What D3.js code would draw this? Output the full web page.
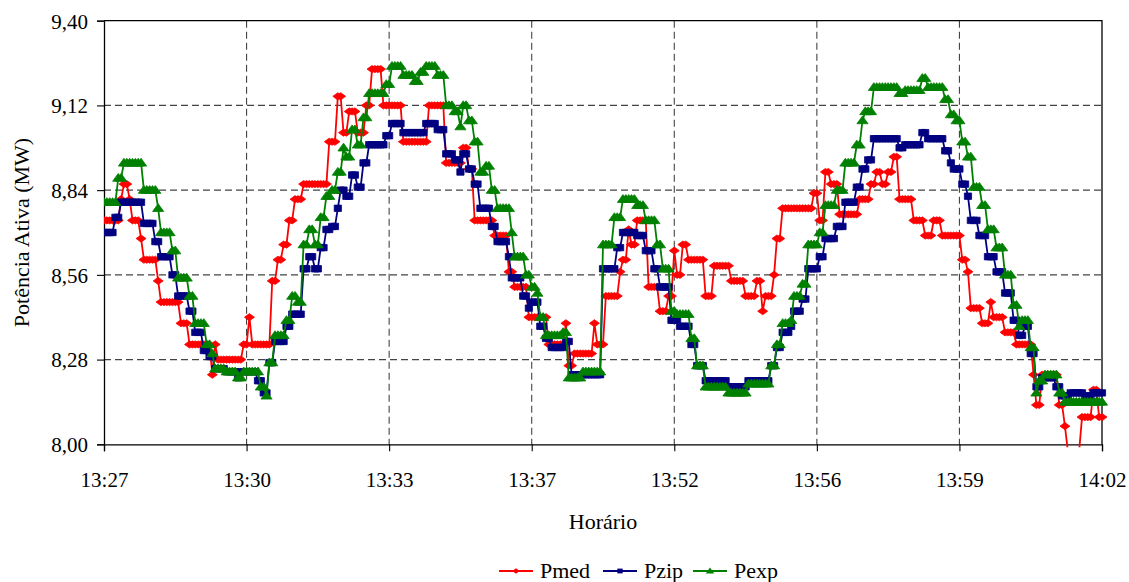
<!DOCTYPE html>
<html>
<head>
<meta charset="utf-8">
<script src="https://cdn.jsdelivr.net/npm/d3@7"></script>
<style>
  body { margin: 0; background: #fff; }
</style>
</head>
<body>
<svg id="chart" width="1129" height="582"></svg>
<script>
// Time labels shown every 50 samples along the horizontal axis
const timeLabels = ["13:27", "13:30", "13:33", "13:37", "13:52", "13:56", "13:59", "14:02"];
const samplesPerLabel = 50;

// Active power (MW), one value per sample
const pmed = [
  8.74,8.74,8.74,8.74,8.74,8.74,8.81,8.86,8.86,8.81,
  8.74,8.74,8.74,8.68,8.61,8.61,8.61,8.61,8.61,8.54,
  8.47,8.47,8.47,8.47,8.47,8.47,8.47,8.40,8.40,8.40,
  8.33,8.33,8.33,8.33,8.33,8.33,8.33,8.33,8.23,8.33,
  8.28,8.28,8.28,8.28,8.28,8.28,8.28,8.28,8.28,8.33,
  8.33,8.42,8.33,8.33,8.33,8.33,8.33,8.33,8.33,8.54,
  8.54,8.61,8.61,8.66,8.66,8.74,8.74,8.81,8.81,8.81,
  8.86,8.86,8.86,8.86,8.86,8.86,8.86,8.86,8.86,9.00,
  9.00,9.00,9.15,9.15,9.03,9.03,9.10,9.10,9.10,9.03,
  9.03,9.03,9.12,9.12,9.24,9.24,9.24,9.24,9.12,9.12,
  9.12,9.12,9.12,9.12,9.12,9.00,9.00,9.00,9.00,9.00,
  9.00,9.00,9.00,9.00,9.12,9.12,9.12,9.12,9.12,9.12,
  8.93,8.93,8.93,8.93,8.93,8.93,8.98,8.98,8.91,8.91,
  8.74,8.74,8.74,8.74,8.74,8.74,8.74,8.69,8.69,8.69,
  8.69,8.69,8.57,8.57,8.52,8.52,8.52,8.52,8.52,8.42,
  8.42,8.42,8.42,8.42,8.42,8.42,8.33,8.33,8.33,8.33,
  8.33,8.33,8.40,8.26,8.26,8.30,8.30,8.30,8.30,8.30,
  8.30,8.30,8.40,8.33,8.33,8.33,8.49,8.49,8.49,8.49,
  8.49,8.57,8.61,8.61,8.71,8.66,8.66,8.74,8.74,8.74,
  8.74,8.52,8.52,8.52,8.52,8.44,8.44,8.44,8.49,8.49,
  8.64,8.56,8.56,8.66,8.66,8.61,8.61,8.61,8.61,8.61,
  8.61,8.49,8.49,8.49,8.59,8.59,8.59,8.59,8.59,8.59,
  8.54,8.54,8.54,8.54,8.54,8.49,8.49,8.49,8.49,8.54,
  8.54,8.44,8.49,8.49,8.49,8.56,8.68,8.68,8.78,8.78,
  8.78,8.78,8.78,8.78,8.78,8.78,8.78,8.78,8.78,8.83,
  8.83,8.74,8.74,8.90,8.90,8.86,8.86,8.86,8.76,8.76,
  8.76,8.76,8.76,8.76,8.76,8.81,8.81,8.81,8.81,8.86,
  8.86,8.90,8.90,8.86,8.86,8.90,8.90,8.95,8.95,8.81,
  8.81,8.81,8.81,8.81,8.74,8.74,8.74,8.74,8.69,8.69,
  8.69,8.74,8.74,8.74,8.69,8.69,8.69,8.69,8.69,8.69,
  8.69,8.61,8.61,8.57,8.45,8.45,8.45,8.45,8.40,8.40,
  8.40,8.47,8.42,8.42,8.42,8.42,8.37,8.37,8.37,8.37,
  8.33,8.33,8.33,8.33,8.33,8.33,8.23,8.13,8.13,8.23,
  8.23,8.23,8.23,8.23,8.23,8.13,8.13,8.06,7.98,7.98,
  7.98,7.98,7.98,8.09,8.09,8.09,8.09,8.18,8.18,8.09,8.09
];

const pzip = [
  8.70,8.70,8.70,8.70,8.75,8.75,8.80,8.80,8.80,8.80,
  8.80,8.80,8.80,8.80,8.73,8.73,8.73,8.73,8.67,8.67,
  8.62,8.62,8.62,8.62,8.56,8.56,8.49,8.49,8.49,8.49,
  8.44,8.44,8.37,8.37,8.37,8.31,8.31,8.29,8.29,8.25,
  8.25,8.25,8.25,8.24,8.24,8.24,8.24,8.22,8.24,8.24,
  8.24,8.24,8.24,8.24,8.21,8.21,8.17,8.17,8.27,8.27,
  8.34,8.34,8.34,8.34,8.39,8.39,8.43,8.43,8.43,8.43,
  8.58,8.58,8.62,8.62,8.58,8.58,8.65,8.65,8.71,8.71,
  8.72,8.72,8.78,8.84,8.84,8.82,8.82,8.89,8.89,8.85,
  8.85,8.93,8.93,8.99,8.99,8.99,8.99,8.99,8.99,9.02,
  9.02,9.06,9.06,9.06,9.06,9.03,9.03,9.03,9.03,9.03,
  9.03,9.03,9.03,9.06,9.06,9.06,9.06,9.04,9.04,9.04,
  8.96,8.96,8.96,8.94,8.94,8.90,8.96,8.96,8.91,8.91,
  8.86,8.86,8.78,8.78,8.78,8.78,8.72,8.72,8.67,8.67,
  8.67,8.67,8.62,8.55,8.55,8.55,8.55,8.49,8.49,8.45,
  8.47,8.47,8.47,8.39,8.39,8.35,8.35,8.32,8.32,8.32,
  8.32,8.32,8.34,8.34,8.23,8.23,8.23,8.23,8.23,8.23,
  8.23,8.23,8.23,8.23,8.23,8.58,8.58,8.58,8.58,8.58,
  8.65,8.65,8.70,8.70,8.70,8.70,8.70,8.69,8.69,8.69,
  8.64,8.64,8.64,8.58,8.58,8.52,8.52,8.52,8.52,8.41,
  8.41,8.41,8.39,8.39,8.39,8.39,8.33,8.33,8.26,8.26,
  8.26,8.21,8.21,8.21,8.21,8.21,8.21,8.21,8.21,8.19,
  8.19,8.19,8.19,8.19,8.19,8.19,8.21,8.21,8.21,8.21,
  8.21,8.21,8.21,8.21,8.26,8.26,8.32,8.32,8.37,8.37,
  8.37,8.39,8.44,8.44,8.44,8.48,8.48,8.58,8.58,8.58,
  8.58,8.62,8.62,8.68,8.68,8.68,8.68,8.72,8.72,8.72,
  8.80,8.80,8.80,8.80,8.85,8.85,8.91,8.91,8.94,8.94,
  9.01,9.01,9.01,9.01,9.01,9.01,9.01,9.01,9.01,8.98,
  8.98,8.99,8.99,8.99,8.99,8.99,8.99,9.03,9.03,9.01,
  9.01,9.01,9.01,9.01,9.01,8.97,8.97,8.93,8.91,8.91,
  8.91,8.86,8.86,8.82,8.74,8.74,8.74,8.69,8.69,8.69,
  8.62,8.62,8.62,8.57,8.57,8.57,8.50,8.50,8.50,8.41,
  8.41,8.36,8.36,8.39,8.39,8.30,8.30,8.19,8.19,8.22,
  8.22,8.22,8.22,8.22,8.19,8.19,8.16,8.16,8.16,8.17,
  8.17,8.17,8.17,8.17,8.16,8.16,8.16,8.17,8.17,8.17,8.17
];

const pexp = [
  8.80,8.80,8.80,8.80,8.80,8.88,8.88,8.93,8.93,8.93,
  8.93,8.93,8.93,8.93,8.84,8.84,8.84,8.84,8.84,8.78,
  8.70,8.70,8.70,8.70,8.64,8.64,8.55,8.55,8.55,8.55,
  8.49,8.49,8.40,8.40,8.40,8.40,8.33,8.33,8.30,8.25,
  8.25,8.25,8.25,8.24,8.24,8.24,8.24,8.22,8.22,8.24,
  8.24,8.24,8.24,8.24,8.24,8.19,8.19,8.16,8.27,8.27,
  8.36,8.36,8.36,8.36,8.41,8.41,8.49,8.49,8.47,8.47,
  8.66,8.66,8.71,8.71,8.66,8.66,8.75,8.75,8.82,8.82,
  8.84,8.84,8.90,8.90,8.98,8.95,8.95,9.04,9.04,8.99,
  8.99,9.08,9.08,9.16,9.16,9.16,9.16,9.16,9.16,9.19,
  9.19,9.25,9.25,9.25,9.25,9.22,9.22,9.22,9.22,9.20,
  9.20,9.23,9.23,9.25,9.25,9.25,9.25,9.22,9.22,9.22,
  9.12,9.12,9.12,9.10,9.10,9.05,9.12,9.12,9.07,9.07,
  9.00,9.00,8.90,8.90,8.92,8.92,8.84,8.84,8.78,8.78,
  8.78,8.78,8.78,8.70,8.62,8.62,8.62,8.62,8.56,8.56,
  8.52,8.52,8.50,8.42,8.42,8.36,8.36,8.36,8.36,8.36,
  8.36,8.37,8.37,8.22,8.22,8.22,8.22,8.22,8.24,8.24,
  8.24,8.24,8.24,8.24,8.24,8.66,8.66,8.66,8.66,8.75,
  8.75,8.75,8.81,8.81,8.81,8.81,8.81,8.79,8.79,8.79,
  8.74,8.74,8.74,8.74,8.66,8.66,8.58,8.58,8.58,8.44,
  8.44,8.43,8.43,8.43,8.43,8.43,8.35,8.35,8.26,8.26,
  8.26,8.19,8.19,8.19,8.19,8.19,8.19,8.19,8.19,8.17,
  8.17,8.17,8.17,8.17,8.17,8.17,8.20,8.20,8.20,8.20,
  8.20,8.20,8.20,8.20,8.26,8.26,8.33,8.33,8.40,8.40,
  8.40,8.41,8.49,8.49,8.49,8.53,8.53,8.66,8.66,8.66,
  8.66,8.70,8.70,8.79,8.79,8.79,8.79,8.84,8.84,8.84,
  8.93,8.93,8.93,8.93,8.99,8.99,9.07,9.10,9.10,9.10,
  9.18,9.18,9.18,9.18,9.18,9.18,9.18,9.18,9.18,9.16,
  9.16,9.17,9.17,9.17,9.17,9.17,9.17,9.21,9.21,9.18,
  9.18,9.18,9.18,9.18,9.18,9.14,9.14,9.09,9.09,9.07,
  9.07,9.00,9.00,8.95,8.95,8.85,8.85,8.85,8.79,8.79,
  8.71,8.71,8.71,8.65,8.65,8.65,8.56,8.56,8.56,8.46,
  8.46,8.39,8.41,8.41,8.41,8.32,8.32,8.17,8.21,8.21,
  8.23,8.23,8.23,8.23,8.23,8.17,8.17,8.14,8.14,8.14,
  8.14,8.14,8.14,8.14,8.14,8.14,8.14,8.14,8.14,8.14,8.14
];

const yTicks = [8.00, 8.28, 8.56, 8.84, 9.12, 9.40];

const seriesList = [
  { name: "Pmed", values: pmed, color: "#ff0000", marker: "diamond" },
  { name: "Pzip", values: pzip, color: "#000080", marker: "square" },
  { name: "Pexp", values: pexp, color: "#008000", marker: "triangle" }
];

const svg = d3.select("#chart");

// pick the first serif face that is really installed
function pickSerif() {
  const probe = svg.append("text").attr("x", -999).attr("y", -999)
    .style("font-size", "40px").text("Horário Potência 13:27 WMm");
  const widthOf = fam => probe.style("font-family", fam).node().getComputedTextLength();
  const base = widthOf("monospace");
  const names = ["Liberation Serif", "DejaVu Serif", "Noto Serif", "Times New Roman", "Times", "FreeSerif", "Tinos"];
  let found = null;
  for (const n of names) {
    if (Math.abs(widthOf(`"${n}", monospace`) - base) > 0.5) { found = n; break; }
  }
  probe.remove();
  return found ? `"${found}", serif` : "serif";
}
const FONT = pickSerif();

// ---- layout ----
const plot = { left: 104, top: 20.7, right: 1102, bottom: 444.3 };

const x = d3.scaleLinear()
  .domain([0, samplesPerLabel * (timeLabels.length - 1)])
  .range([plot.left, plot.right]);
const y = d3.scaleLinear()
  .domain([8.0, 9.4])
  .range([plot.bottom, plot.top]);

const fmt = v => d3.format(".2f")(v).replace(".", ",");
const labelIdx = timeLabels.map((_, k) => k * samplesPerLabel);

// marker outlines (wider than tall)
const markerPath = {
  diamond: "M0,-3.6L5,0L0,3.6L-5,0Z",
  square: "M-3.6,-3.2H3.6V3.2H-3.6Z",
  triangle: "M0,-4.6L5.6,3.2L-5.6,3.2Z"
};

// ---- grid ----
const grid = svg.append("g");
grid.selectAll("line.h")
  .data(yTicks.filter(v => v > 8.0 && v < 9.4))
  .join("line")
  .attr("x1", plot.left).attr("x2", plot.right)
  .attr("y1", d => y(d)).attr("y2", d => y(d))
  .attr("stroke", "#444").attr("stroke-width", 1.1)
  .attr("stroke-dasharray", "7,4");
grid.selectAll("line.v")
  .data(labelIdx.slice(1, -1))
  .join("line")
  .attr("x1", d => x(d)).attr("x2", d => x(d))
  .attr("y1", plot.top).attr("y2", plot.bottom)
  .attr("stroke", "#444").attr("stroke-width", 1.1)
  .attr("stroke-dasharray", "7,4");

// plot border: top and right edges
svg.append("path")
  .attr("d", `M${plot.left},${plot.top}H${plot.right}V${plot.bottom}`)
  .attr("fill", "none")
  .attr("stroke", "#000").attr("stroke-width", 1.3);

// ---- axes ----
const yAxis = d3.axisLeft(y).tickValues(yTicks).tickFormat(fmt).tickSize(7).tickPadding(9);
const gy = svg.append("g").attr("transform", `translate(${plot.left},0)`).call(yAxis);
gy.select(".domain").attr("stroke", "#000").attr("stroke-width", 1.3);
gy.selectAll(".tick line").attr("stroke", "#000").attr("stroke-width", 1.1);
gy.selectAll(".tick text").style("font-size", "21px").attr("dy", "0.35em");

const xAxis = d3.axisBottom(x).tickValues(labelIdx)
  .tickFormat((d, k) => timeLabels[k]).tickSize(7).tickPadding(21);
const gx = svg.append("g").attr("transform", `translate(0,${plot.bottom})`).call(xAxis);
gx.select(".domain").attr("stroke", "#000").attr("stroke-width", 1.3);
gx.selectAll(".tick line").attr("stroke", "#000").attr("stroke-width", 1.1);
gx.selectAll(".tick text").style("font-size", "21px");

// ---- series ----
svg.append("clipPath").attr("id", "plotClip")
  .append("rect")
  .attr("x", plot.left).attr("y", plot.top - 6)
  .attr("width", plot.right - plot.left + 6)
  .attr("height", plot.bottom - plot.top + 9);

const line = d3.line().x((d, i) => x(i)).y(d => y(d));

const layer = svg.append("g").attr("clip-path", "url(#plotClip)");
seriesList.forEach(s => {
  const g = layer.append("g");
  g.append("path")
    .attr("d", line(s.values))
    .attr("fill", "none")
    .attr("stroke", s.color)
    .attr("stroke-width", 1.8)
    .attr("stroke-linejoin", "round");
  g.selectAll("path.mk")
    .data(s.values.map((v, i) => ({ v, i })).filter(p => p.v >= 8.0))
    .join("path")
    .attr("class", "mk")
    .attr("d", markerPath[s.marker])
    .attr("transform", p => `translate(${x(p.i)},${y(p.v)})`)
    .attr("fill", s.color)
    .attr("stroke", s.color)
    .attr("stroke-width", 0.8);
});

// ---- titles ----
svg.append("text")
  .attr("x", (plot.left + plot.right) / 2).attr("y", 529)
  .attr("text-anchor", "middle").style("font-size", "22px")
  .text("Horário");
svg.append("text")
  .attr("transform", `translate(29,${(plot.top + plot.bottom) / 2}) rotate(-90)`)
  .attr("text-anchor", "middle").style("font-size", "22px")
  .text("Potência Ativa (MW)");

// ---- legend ----
const legendItems = [
  { s: seriesList[0], x0: 499 },
  { s: seriesList[1], x0: 603 },
  { s: seriesList[2], x0: 693 }
];
const legendY = 571;
const lg = svg.append("g");
legendItems.forEach(({ s, x0 }) => {
  lg.append("line")
    .attr("x1", x0).attr("x2", x0 + 34)
    .attr("y1", legendY).attr("y2", legendY)
    .attr("stroke", s.color).attr("stroke-width", 1.8);
  lg.append("path")
    .attr("d", markerPath[s.marker])
    .attr("transform", `translate(${x0 + 17},${legendY}) scale(0.75)`)
    .attr("fill", s.color);
  lg.append("text")
    .attr("x", x0 + 41).attr("y", legendY + 7)
    .style("font-size", "22px")
    .text(s.name);
});

// every label in the serif face
svg.selectAll("text").style("font-family", FONT).attr("fill", "#000");
</script>
</body>
</html>
